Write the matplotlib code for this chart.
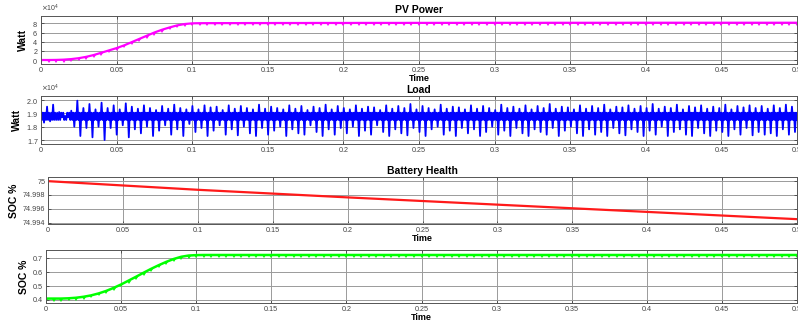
import numpy as np
import matplotlib
matplotlib.use('Agg')
import matplotlib.pyplot as plt
from matplotlib.ticker import FuncFormatter, MultipleLocator

# ---- data ----
# PV power, one sample every 5 ms
pv_time = np.arange(0, 0.5001, 0.005)
pv_watt = [
    0, 0, 200, 800, 2000, 4000, 7000, 11000, 16000, 21000,
    26000, 32000, 39000, 46000, 53000, 60000, 66000, 71000, 75500, 78500,
    80000,
    80300, 80400, 80400, 80500, 80500, 80500, 80600, 80600, 80600, 80600,
    80700, 80700, 80700, 80700, 80700, 80800, 80800, 80800, 80800, 80800,
    80800, 80900, 80900, 80900, 80900, 80900, 80900, 80900, 81000, 81000,
    81000, 81000, 81000, 81000, 81000, 81000, 81100, 81100, 81100, 81100,
    81100, 81100, 81100, 81100, 81100, 81100, 81200, 81200, 81200, 81200,
    81200, 81200, 81200, 81200, 81200, 81200, 81200, 81300, 81300, 81300,
    81300, 81300, 81300, 81300, 81300, 81300, 81300, 81300, 81300, 81300,
    81300, 81300, 81300, 81300, 81300, 81300, 81300, 81300, 81300, 81300,
]

# Load: spike tops and bottoms, one pair every 4 ms, riding on a core band
load_core_hi = 19050
load_core_lo = 18500
load_high = [
    19300, 19500, 19650, 19100, 18800, 19200, 19950, 19400, 19700, 19300,
    19800, 19400, 19600, 19300, 19750, 19500, 19350, 19600, 19400, 19250,
    19550, 19350, 19650, 19400, 19300, 19550, 19300, 19600, 19450, 19500,
    19250, 19600, 19350, 19550, 19400, 19300, 19650, 19350, 19500, 19400,
    19300, 19600, 19350, 19550, 19250, 19500, 19400, 19650, 19300, 19550,
    19400, 19300, 19600, 19350, 19500, 19450, 19250, 19600, 19350, 19550,
    19400, 19700, 19300, 19550, 19400, 19300, 19650, 19350, 19500, 19450,
    19300, 19600, 19350, 19550, 19400, 19250, 19650, 19400, 19500, 19350,
    19600, 19300, 19550, 19400, 19700, 19350, 19500, 19450, 19300, 19600,
    19350, 19550, 19400, 19650, 19300, 19500, 19450, 19600, 19350, 19550,
    19400, 19700, 19350, 19500, 19400, 19650, 19300, 19550, 19450, 19600,
    19350, 19500, 19400, 19650, 19300, 19550, 19450, 19600, 19400, 19550,
    19350, 19600, 19400, 19650, 19500,
]
load_low = [
    18300, 18400, 18500, 18700, 18700, 18000, 17300, 17900, 17200, 18000,
    17000, 17900, 17400, 18100, 17200, 17800, 17500, 18000, 17300, 17700,
    18100, 17400, 17800, 17300, 18200, 17600, 17900, 17300, 17700, 18100,
    17400, 17800, 17350, 18000, 17500, 17300, 17900, 17400, 17700, 18000,
    17300, 17800, 17500, 17400, 18100, 17600, 17300, 17800, 17400, 17900,
    17500, 18000, 17300, 17700, 17400, 18100, 17600, 17300, 17800, 17500,
    17350, 17900, 17600, 17300, 17800, 18000, 17400, 17700, 17300, 17900,
    17500, 17800, 17300, 17600, 18000, 17400, 17700, 17300, 17900, 17500,
    17300, 17800, 17600, 17400, 17900, 17300, 17700, 18000, 17500, 17300,
    17800, 17400, 17600, 17300, 17900, 17500, 17350, 17800, 17600, 17300,
    17700, 17400, 18000, 17300, 17600, 17800, 17400, 17300, 17900, 17500,
    17300, 17700, 17600, 17300, 17800, 17400, 17900, 17350, 17600, 17400,
    17500, 17300, 17800, 17400, 17600,
]

# Battery state of charge (%)
batt_time = [0, 0.1, 0.2, 0.3, 0.4, 0.5]
batt_soc = [75.0, 74.99875, 74.99765, 74.99660, 74.99555, 74.99450]

# SOC (last panel), one sample every 5 ms
soc_time = np.arange(0, 0.5001, 0.005)
soc_val = [
    0.410, 0.410, 0.410, 0.412, 0.416, 0.423, 0.433, 0.447, 0.465, 0.487,
    0.512, 0.540, 0.568, 0.597, 0.625, 0.651, 0.675, 0.696, 0.712, 0.721,
    0.724,
    0.725, 0.725, 0.725, 0.725, 0.725, 0.725, 0.725, 0.725, 0.725, 0.725,
    0.725, 0.725, 0.725, 0.725, 0.725, 0.725, 0.725, 0.725, 0.725, 0.725,
    0.725, 0.725, 0.725, 0.725, 0.725, 0.725, 0.725, 0.725, 0.725, 0.725,
    0.725, 0.725, 0.725, 0.725, 0.725, 0.725, 0.725, 0.725, 0.725, 0.725,
    0.725, 0.725, 0.725, 0.725, 0.725, 0.725, 0.725, 0.725, 0.725, 0.725,
    0.725, 0.725, 0.725, 0.725, 0.725, 0.725, 0.725, 0.725, 0.725, 0.725,
    0.725, 0.725, 0.725, 0.725, 0.725, 0.725, 0.725, 0.725, 0.725, 0.725,
    0.725, 0.725, 0.725, 0.725, 0.725, 0.725, 0.725, 0.725, 0.725, 0.725,
]

plt.rcParams['font.family'] = ['Liberation Sans', 'DejaVu Sans']

W, H = 798, 326
fig = plt.figure(figsize=(W / 100, H / 100), dpi=100)


def make_axes(left, top, bottom, right=797):
    return fig.add_axes([left / W, 1 - bottom / H, (right - left) / W, (bottom - top) / H])


def style(ax, ylim, yticks, ylabel, title=None, xlabel=True):
    ax.set_xlim(0, 0.5)
    ax.set_ylim(*ylim)
    ax.set_yticks(yticks)
    ax.xaxis.set_major_locator(MultipleLocator(0.05))
    ax.xaxis.set_major_formatter(FuncFormatter(lambda v, p: f'{v:g}'))
    ax.tick_params(direction='in', length=2.5, width=0.6, labelsize=5.2,
                   colors='#444444', pad=2, right=True, top=True)
    ax.grid(True, color='#9a9a9a', linewidth=0.7)
    ax.set_axisbelow(True)
    for s in ax.spines.values():
        s.set_color('#555555')
        s.set_linewidth(0.7)
    ax.set_ylabel(ylabel, fontsize=7.5, fontweight='bold', labelpad=3)
    if xlabel:
        ax.set_xlabel('Time', fontsize=6.5, fontweight='bold', labelpad=0)
    if title:
        ax.set_title(title, fontsize=7.5, fontweight='bold', pad=2)


# PV Power
ax1 = make_axes(41, 16, 64)
ax1.plot(pv_time, pv_watt, color='#ff00ff', linewidth=1.6)
ax1.plot(pv_time, pv_watt, linestyle='none', color='#ff00ff',
         marker=11, markersize=2.6, markeredgewidth=0)
style(ax1, (-8700, 96000), [0, 20000, 40000, 60000, 80000], 'Watt', 'PV Power')
ax1.ticklabel_format(axis='y', style='sci', scilimits=(0, 0), useMathText=True, useOffset=False)
ax1.yaxis.get_offset_text().set_fontsize(5)

# Load
ax2 = make_axes(41, 96, 144)
load_sig = []
for hi, lo in zip(load_high, load_low):
    load_sig += [hi, load_core_lo, load_core_hi, lo, load_core_hi, load_core_lo]
load_t = np.linspace(0, 0.5, len(load_sig))
ax2.plot(load_t, load_sig, color='#0000ff', linewidth=1.3)
style(ax2, (16700, 20300), [17000, 18000, 19000, 20000], 'Watt', 'Load', xlabel=False)
ax2.ticklabel_format(axis='y', style='sci', scilimits=(0, 0), useMathText=True, useOffset=False)
ax2.yaxis.get_offset_text().set_fontsize(5)

# Battery Health
ax3 = make_axes(48, 177, 224)
ax3.plot(batt_time, batt_soc, color='#ff1a1a', linewidth=1.6)
style(ax3, (74.99380, 75.00060), [74.994, 74.996, 74.998, 75.0], 'SOC %', 'Battery Health')
ax3.yaxis.set_major_formatter(FuncFormatter(lambda v, p: f'{v:g}'))

# SOC
ax4 = make_axes(46, 250, 303)
ax4.plot(soc_time, soc_val, color='#00ff00', linewidth=1.8)
ax4.plot(soc_time, soc_val, linestyle='none', color='#00ff00',
         marker=11, markersize=2.6, markeredgewidth=0)
style(ax4, (0.378, 0.761), [0.4, 0.5, 0.6, 0.7], 'SOC %')

fig.savefig('out.png', dpi=100)
